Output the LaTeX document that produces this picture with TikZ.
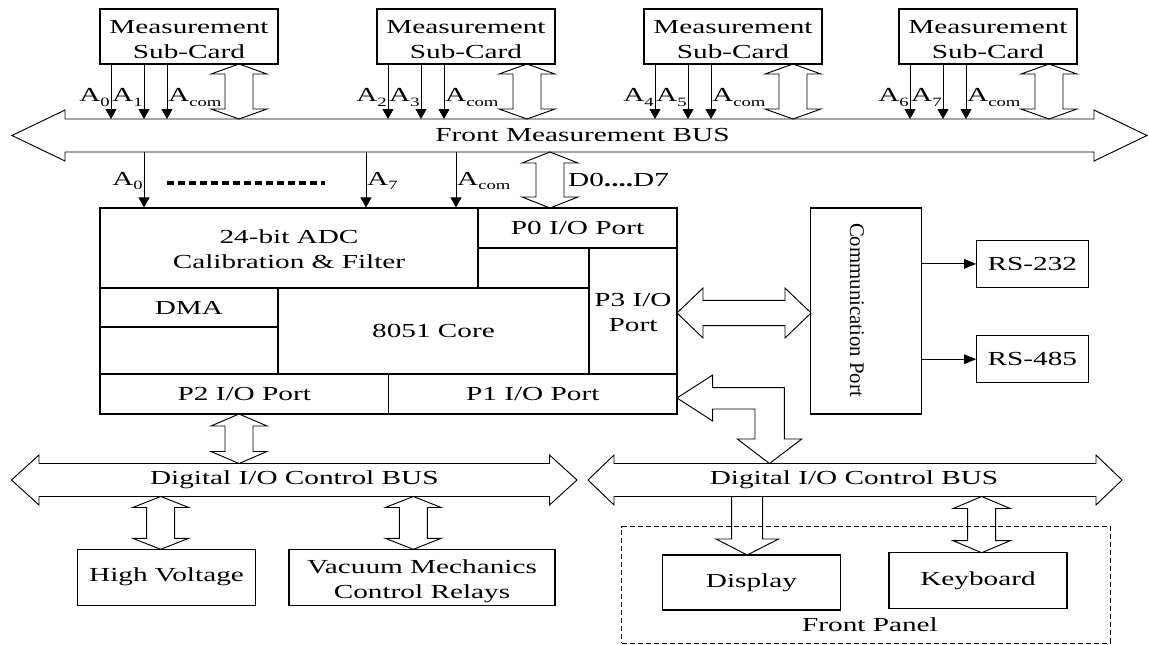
\documentclass[tikz,border=0pt]{standalone}
\usepackage{fontspec}
\setmainfont{Liberation Serif}[FakeStretch=1.47]
\newfontfamily\plainserif{Liberation Serif}
\usetikzlibrary{arrows.meta}
\newcommand\mainfs{\fontsize{19.9}{25}\selectfont}
\newcommand\subtxt[1]{\raisebox{-4.3pt}{\fontsize{12.7}{13}\selectfont #1}}
% horizontal double block arrow: left tip x, right tip x, centre y, head half, shaft half, head length
\newcommand\hdarrow[6]{\draw[blk] (#1,#3) -- ({#1+#6},{#3-#4}) -- ({#1+#6},{#3-#5}) -- ({#2-#6},{#3-#5}) -- ({#2-#6},{#3-#4}) -- (#2,#3) -- ({#2-#6},{#3+#4}) -- ({#2-#6},{#3+#5}) -- ({#1+#6},{#3+#5}) -- ({#1+#6},{#3+#4}) -- cycle;}
% vertical double block arrow: centre x, top y, bottom y, head half, shaft half, head length
\newcommand\vdarrow[6]{\draw[blk] (#1,#2) -- ({#1+#4},{#2+#6}) -- ({#1+#5},{#2+#6}) -- ({#1+#5},{#3-#6}) -- ({#1+#4},{#3-#6}) -- (#1,#3) -- ({#1-#4},{#3-#6}) -- ({#1-#5},{#3-#6}) -- ({#1-#5},{#2+#6}) -- ({#1-#4},{#2+#6}) -- cycle;}
\begin{document}
\begin{tikzpicture}[x=1pt,y=-1pt,
  box/.style={draw, line width=1.05pt, inner sep=0pt, align=center, font=\mainfs},
  lab/.style={inner sep=0pt, font=\mainfs},
  blk/.style={draw, line width=0.95pt, line join=miter},
  sig/.style={line width=0.95pt, -{Triangle[length=10pt,width=11pt]}},
  sigr/.style={line width=0.95pt, -{Triangle[length=12pt,width=9.5pt]}}]
\useasboundingbox (0,0) rectangle (1149,645);

% ---------- Front measurement bus ----------
\hdarrow{12}{1147}{135.5}{25.5}{16.5}{53}
\node[lab] (fbus) at (582.5,135.5) {Front Measurement BUS};
\coordinate (fbt) at (0,119);
\coordinate (fbb) at (0,152);

% ---------- Measurement sub-cards ----------
\foreach \i/\cx/\d/\ea/\eb in {1/189/239/0/1, 2/466/527/2/3, 3/733/793/4/5, 4/988/1049/6/7}{
  \node[box, minimum width=178pt, minimum height=55pt] (c\i) at (\cx,36.5) {\rule{0pt}{18.6pt}Measurement\\Sub-Card};
  \draw[sig] ([xshift=-78pt]c\i.south) -- ([xshift=-78pt]c\i.south |- fbt);
  \draw[sig] ([xshift=-45pt]c\i.south) -- ([xshift=-45pt]c\i.south |- fbt);
  \draw[sig] ([xshift=-22pt]c\i.south) -- ([xshift=-22pt]c\i.south |- fbt);
  \node[lab, anchor=base east] at (\cx-79,101.7) {A\subtxt{\ea}};
  \node[lab, anchor=base west] at (\cx-77,101.7) {A\subtxt{\eb}};
  \node[lab, anchor=base west] at (\cx-21,101.7) {A\subtxt{com}};
  \vdarrow{\d}{64}{119}{28}{14}{10}
}

% ---------- MCU block ----------
\node[box, minimum width=577pt, minimum height=206pt] (mcu) at (388.5,311) {};
\node[box, minimum width=378pt, minimum height=80pt] (adc) at (289,248) {\rule{0pt}{15.6pt}24-bit ADC\\Calibration \& Filter};
\node[box, minimum width=199pt, minimum height=40pt] (p0) at (577.5,228) {P0 I/O Port};
\node[box, minimum width=88pt, minimum height=126pt] (p3) at (633,311) {\rule{0pt}{16.4pt}P3 I/O\\Port};
\node[box, minimum width=178pt, minimum height=39pt] (dma) at (189,307.5) {DMA};
\node[box, minimum width=311pt, minimum height=86pt] (core) at (433.5,331) {8051 Core};
\node[box, minimum width=288.5pt, minimum height=40pt] (p2) at (244.25,394) {P2 I/O Port};
\node[box, minimum width=288.5pt, minimum height=40pt] (p1) at (532.75,394) {P1 I/O Port};

% signals from bus to ADC
\coordinate (l0) at (144,152);
\coordinate (l7) at (366,152);
\coordinate (lc) at (456,152);
\draw[sig] (l0) -- (l0 |- mcu.north);
\draw[sig] (l7) -- (l7 |- mcu.north);
\draw[sig] (lc) -- (lc |- mcu.north);
\node[lab, anchor=base east] at (143,185) {A\subtxt{0}};
\node[lab, anchor=base west] at (367,185) {A\subtxt{7}};
\node[lab, anchor=base west] at (457,185) {A\subtxt{com}};
\draw[line width=3.8pt, dash pattern=on 7.3pt off 3.7pt] (166.7,182.7) -- (325,182.7);
\vdarrow{550}{152}{208}{28}{14}{11}
\node[lab, anchor=base west] (dlab) at (568,186) {D0\textbf{....}D7};

% ---------- Communication ----------
\node[box, minimum width=111pt, minimum height=206pt] (comm) at (866.2,311) {};
\node[inner sep=0pt, rotate=-90, font=\plainserif\fontsize{20.8}{24}\selectfont] (commt) at (857,310) {Communication Port};
\node[box, minimum width=111.3pt, minimum height=47.7pt] (rs232) at (1032.4,263.9) {RS-232};
\node[box, minimum width=111.3pt, minimum height=47pt] (rs485) at (1032.4,359.2) {RS-485};
\draw[sigr] (comm.east |- rs232.west) -- (rs232.west);
\draw[sigr] (comm.east |- rs485.west) -- (rs485.west);
\hdarrow{677}{811}{313}{25}{12.7}{26}

% bent arrow P1 -> right digital bus
\draw[blk] (677,398) -- (712.7,375) -- (712.7,387.7) -- (784.3,387.7) -- (784.3,439) -- (801.7,439) -- (769.5,463.5) -- (737.3,439) -- (755,439) -- (755,409) -- (712.7,409) -- (712.7,421) -- cycle;

% ---------- Digital I/O buses ----------
\hdarrow{11.5}{577}{480}{25}{16.5}{27.5}
\node[lab] (dbus1) at (294.3,480) {Digital I/O Control BUS};
\hdarrow{588}{1122}{480}{25}{16.5}{26}
\node[lab] (dbus2) at (854,480) {Digital I/O Control BUS};
\vdarrow{239}{414}{463.5}{28}{14}{12}

% ---------- Bottom left ----------
\node[box, minimum width=177.6pt, minimum height=55.7pt] (hv) at (166.5,577.2) {High Voltage};
\node[box, minimum width=266pt, minimum height=55.7pt] (vac) at (422,577.2) {\rule{0pt}{21pt}Vacuum Mechanics\\Control Relays};
\vdarrow{160.7}{496.5}{549.3}{28}{14}{11}
\vdarrow{413.3}{496.5}{549.3}{28}{14}{11}

% ---------- Front panel ----------
\node[draw, line width=0.75pt, dash pattern=on 5pt off 3pt, minimum width=488.3pt, minimum height=116.3pt, inner sep=0pt] (fp) at (865.85,584.85) {};
\node[lab] (fpl) at (870,625) {Front Panel};
\node[box, minimum width=178.7pt, minimum height=55pt] (disp) at (751.4,582.5) {Display};
\node[box, minimum width=178pt, minimum height=55.3pt] (kbd) at (978,580.4) {Keyboard};
\draw[blk] (731.7,496.5) -- (731.7,539) -- (716,539) -- (747.2,555) -- (778.5,539) -- (762.7,539) -- (762.7,496.5);
\vdarrow{981.7}{496.5}{552.7}{28.5}{14}{12}
\end{tikzpicture}
\end{document}
